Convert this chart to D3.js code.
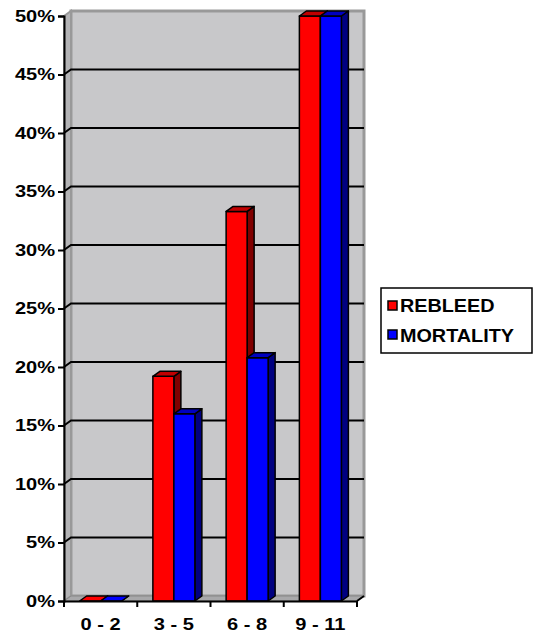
<html>
<head>
<script src="https://d3js.org/d3.v7.min.js"></script>
<style>
  body { margin: 0; background: #fff; }
  text { font-family: "Liberation Sans", Arial, sans-serif; font-weight: bold; }
</style>
</head>
<body>
<div id="chart"></div>
<script>
// data
const categories = ["0 - 2", "3 - 5", "6 - 8", "9 - 11"];
const rebleed = [0, 0.192, 0.333, 0.50];
const mortality = [0, 0.160, 0.208, 0.50];
const yTicks = [0, 0.05, 0.10, 0.15, 0.20, 0.25, 0.30, 0.35, 0.40, 0.45, 0.50];
const seriesNames = ["REBLEED", "MORTALITY"];

const width = 533, height = 636;
const plotLeft = 64, plotRight = 357, plotTop = 16, plotBottom = 601;
const dx = 7, dy = 5; // 3d depth
const labelFont = "'Liberation Sans', Arial, sans-serif";
const stretch = 1.18; // the original text is a little wider than plain Arial

const svg = d3.select("#chart").append("svg")
  .attr("width", width).attr("height", height);

const x = d3.scaleBand().domain(categories).range([plotLeft, plotRight]);
const y = d3.scaleLinear().domain([0, 0.5]).range([plotBottom, plotTop]);
const color = d3.scaleOrdinal().domain(seriesNames).range(["#FF0000", "#0000FF"]);
const sideColor = d3.scaleOrdinal().domain(seriesNames).range(["#800000", "#000080"]);
const topColor = d3.scaleOrdinal().domain(seriesNames).range(["#C00000", "#0000C0"]);

// back wall
svg.append("rect")
  .attr("x", plotLeft + dx).attr("y", plotTop - dy)
  .attr("width", plotRight - plotLeft).attr("height", plotBottom - plotTop)
  .attr("fill", "#C8C8CA").attr("stroke", "#999").attr("stroke-width", 3);
// left wall
svg.append("path")
  .attr("d", `M${plotLeft},${plotTop} L${plotLeft + dx},${plotTop - dy} L${plotLeft + dx},${plotBottom - dy} L${plotLeft},${plotBottom} Z`)
  .attr("fill", "#B4B4B6").attr("stroke", "#999").attr("stroke-width", 2);
// floor
svg.append("path")
  .attr("d", `M${plotLeft},${plotBottom} L${plotLeft + dx},${plotBottom - dy} L${plotRight + dx},${plotBottom - dy} L${plotRight},${plotBottom} Z`)
  .attr("fill", "#A8A8AA").attr("stroke", "#888").attr("stroke-width", 1);

// gridlines
svg.append("g").selectAll("path")
  .data(yTicks.filter(d => d > 0 && d < 0.5))
  .join("path")
  .attr("d", d => `M${plotLeft},${y(d)} L${plotLeft + dx},${y(d) - dy} L${plotRight + dx},${y(d) - dy}`)
  .attr("fill", "none").attr("stroke", "#000").attr("stroke-width", 2);

// bars
const bw = 21;
const rows = categories.map((c, i) => ({cat: c, vals: [rebleed[i], mortality[i]]}));
rows.forEach(r => {
  const cx = x(r.cat) + x.bandwidth() / 2;
  r.vals.forEach((v, j) => {
    const name = seriesNames[j];
    const x0 = cx - bw + j * bw, x1 = x0 + bw;
    const yt = y(v), yb = y(0);
    const g = svg.append("g").attr("stroke", "#000").attr("stroke-width", 1.5).attr("stroke-linejoin", "round");
    g.append("path")
      .attr("d", `M${x1},${yt} L${x1 + dx},${yt - dy} L${x1 + dx},${yb - dy} L${x1},${yb} Z`)
      .attr("fill", sideColor(name));
    if (yb - yt > 0.5) {
      g.append("rect").attr("x", x0).attr("y", yt).attr("width", bw).attr("height", yb - yt)
        .attr("fill", color(name));
    }
    g.append("path")
      .attr("d", `M${x0},${yt} L${x0 + dx},${yt - dy} L${x1 + dx},${yt - dy} L${x1},${yt} Z`)
      .attr("fill", v > 0 ? topColor(name) : color(name));
  });
});

// y axis
const yAxis = svg.append("g")
  .attr("transform", `translate(${plotLeft},0)`)
  .call(d3.axisLeft(y).tickValues(yTicks).tickFormat(d3.format(".0%")).tickSize(6).tickPadding(3));
yAxis.select(".domain").attr("stroke", "#000").attr("stroke-width", 2);
yAxis.selectAll(".tick line").attr("stroke", "#000").attr("stroke-width", 2);
yAxis.selectAll(".tick text").attr("font-size", 17).attr("fill", "#000")
  .attr("x", -9 / stretch).attr("transform", `scale(${stretch},1)`)
  .style("font-family", labelFont).style("font-weight", "bold");

// x axis
const xAxis = svg.append("g")
  .attr("transform", `translate(0,${plotBottom})`)
  .call(d3.axisBottom(x).tickSize(0).tickPadding(17));
xAxis.select(".domain").attr("stroke", "#000").attr("stroke-width", 2);
xAxis.selectAll(".tick text").attr("font-size", 17).attr("fill", "#000")
  .attr("x", d => 0).attr("transform", `scale(${stretch},1)`)
  .style("font-family", labelFont).style("font-weight", "bold");
// category boundary ticks
svg.append("g").selectAll("line")
  .data(categories.map(c => x(c)).concat([plotRight]))
  .join("line")
  .attr("x1", d => d).attr("x2", d => d)
  .attr("y1", plotBottom).attr("y2", plotBottom + 6)
  .attr("stroke", "#000").attr("stroke-width", 2);
svg.append("line")
  .attr("x1", plotRight).attr("y1", plotBottom).attr("x2", plotRight + dx).attr("y2", plotBottom - dy)
  .attr("stroke", "#000").attr("stroke-width", 2);

// legend
const lg = svg.append("g").attr("transform", "translate(381,288)");
lg.append("rect").attr("width", 151).attr("height", 65)
  .attr("fill", "#fff").attr("stroke", "#000").attr("stroke-width", 1.5);
seriesNames.forEach((s, i) => {
  lg.append("rect").attr("x", 7).attr("y", 13 + i * 29).attr("width", 9).attr("height", 9)
    .attr("fill", color(s)).attr("stroke", "#000").attr("stroke-width", 1.5);
  lg.append("text").attr("transform", `translate(19,${24 + i * 30}) scale(1.1,1)`)
    .attr("font-size", 18).attr("fill", "#000").text(s);
});
</script>
</body>
</html>
